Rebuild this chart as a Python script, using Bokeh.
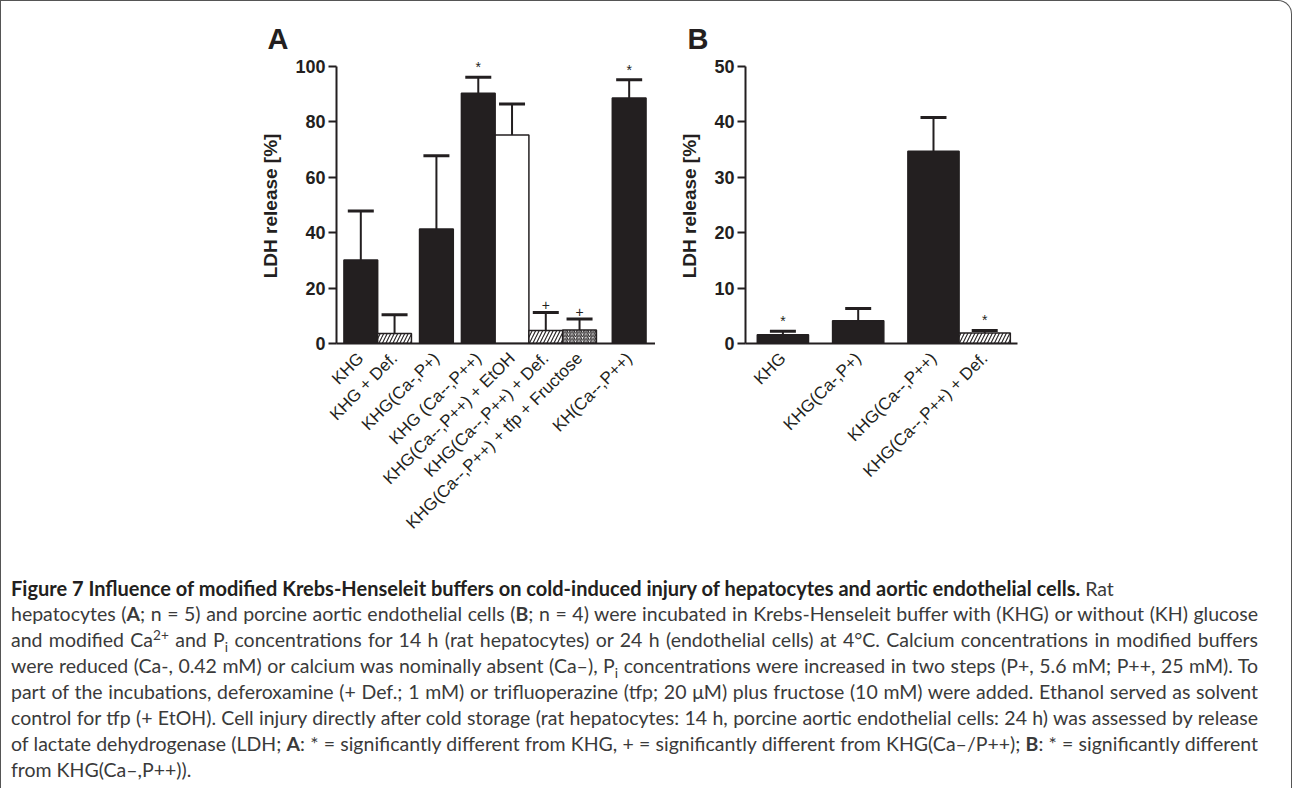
import numpy as np
from bokeh.plotting import figure
from bokeh.models import ColumnDataSource, Range1d, FixedTicker, Div
from bokeh.layouts import column, row
from bokeh.embed import file_html
from bokeh.resources import INLINE
from bokeh.core.properties import value

# ---------------- data ----------------
labels_A = ["KHG", "KHG + Def.", "KHG(Ca-,P+)", "KHG (Ca--,P++)",
            "KHG(Ca--,P++) + EtOH", "KHG(Ca--,P++) + Def.",
            "KHG(Ca--,P++) + tfp + Fructose", "KH(Ca--,P++)"]
mean_A = [30.1, 3.6, 41.3, 90.3, 75.3, 4.7, 4.9, 88.6]
upper_A = [47.8, 10.4, 67.8, 96.1, 86.5, 11.2, 8.8, 95.2]
sig_A = ["", "", "", "*", "", "+", "+", "*"]
yticks_A = [0, 20, 40, 60, 80, 100]

labels_B = ["KHG", "KHG(Ca-,P+)", "KHG(Ca--,P++)", "KHG(Ca--,P++) + Def."]
mean_B = [1.6, 4.1, 34.7, 1.9]
upper_B = [2.2, 6.3, 40.8, 2.35]
sig_B = ["*", "", "", "*"]
yticks_B = [0, 10, 20, 30, 40, 50]

y_title = "LDH release [%]"

# ---------------- styles / layout ----------------
kind_A = ["solid", "hatch", "solid", "solid", "open", "hatch", "dense", "solid"]
kind_B = ["solid", "solid", "solid", "hatch"]
gap_A = [0.22, 0, 0.24, 0.24, 0, 0, 0, 0.47]
tail_A = 0.28
gap_B = [0.23, 0.47, 0.47, 0]
tail_B = 0.14

INK = "#231f20"
FONT = "Liberation Sans"
STYLE = {"solid": (INK, " ", 12.0), "open": ("white", " ", 12.0),
         "hatch": ("white", "/", 7.0), "dense": ("white", "/", 3.5)}

FRAME_H = 291
AXIS_PX = 277  # pixels from 0 to top tick


def centers(gaps):
    g = np.cumsum(gaps)
    return [round(float(v), 3) for v in g + np.arange(len(gaps)) + 0.5]


def panel(letter, labels, mean, upper, sig, kinds, gaps, tail, yticks,
          frame_w, mb_left, mb_right, title_off):
    xs = centers(gaps)
    x_end = xs[-1] + 0.5 + tail
    y_end = yticks[-1] * FRAME_H / AXIS_PX
    p = figure(frame_width=frame_w, frame_height=FRAME_H,
               x_range=Range1d(0, x_end), y_range=Range1d(0, y_end),
               output_backend="svg", toolbar_location=None,
               min_border_left=mb_left, min_border_right=mb_right,
               min_border_top=51, min_border_bottom=218,
               title=letter)
    p.outline_line_color = None
    p.xgrid.visible = False
    p.ygrid.visible = False
    p.background_fill_color = "white"
    p.border_fill_color = "white"

    p.title.text_font = FONT
    p.title.text_font_size = "29px"
    p.title.text_font_style = "bold"
    p.title.text_color = INK
    p.title.align = "left"
    p.title.offset = title_off
    p.title.standoff = -5

    src = ColumnDataSource(dict(
        x=xs, top=mean, up=upper, sig=sig,
        fill=[STYLE[k][0] for k in kinds],
        hatch=[STYLE[k][1] for k in kinds],
        hs=[STYLE[k][2] for k in kinds],
    ))
    p.vbar(x="x", top="top", bottom=0, width=1, source=src,
           fill_color="fill", line_color=INK, line_width=1.5,
           hatch_pattern="hatch", hatch_scale="hs", hatch_color=INK,
           hatch_weight=1.1)
    p.segment(x0="x", y0="top", x1="x", y1="up", source=src,
              line_color=INK, line_width=2)
    p.scatter(x="x", y="up", marker="dash", size=26, source=src,
              line_color=INK, line_width=3)
    p.text(x="x", y="up", text="sig", source=src, text_align="center",
           text_baseline="bottom", y_offset=-2, text_font_size="14px",
           text_font=value(FONT), text_color=INK)

    xa = p.xaxis[0]
    xa.ticker = FixedTicker(ticks=xs)
    xa.major_label_overrides = {x: l for x, l in zip(xs, labels)}
    xa.major_label_orientation = np.pi / 4
    xa.major_tick_line_color = None
    xa.minor_tick_line_color = None
    xa.axis_line_width = 2
    xa.axis_line_color = INK
    xa.major_label_text_font = FONT
    xa.major_label_text_font_size = "17px"
    xa.major_label_text_color = INK
    xa.major_label_standoff = 6

    ya = p.yaxis[0]
    ya.ticker = FixedTicker(ticks=yticks)
    ya.bounds = (0, yticks[-1])
    ya.major_tick_out = 8
    ya.major_tick_in = 0
    ya.major_tick_line_width = 2
    ya.major_tick_line_color = INK
    ya.minor_tick_line_color = None
    ya.axis_line_width = 2
    ya.axis_line_color = INK
    ya.major_label_text_font = FONT
    ya.major_label_text_font_size = "18px"
    ya.major_label_text_font_style = "bold"
    ya.major_label_text_color = INK
    ya.major_label_standoff = 3
    # trailing no-break spaces centre the title on the axis span (0..max)
    ya.axis_label = y_title + "\u00a0\u00a0\u00a0"
    ya.axis_label_text_font = FONT
    ya.axis_label_text_font_size = "19px"
    ya.axis_label_text_font_style = "bold"
    ya.axis_label_text_color = INK
    ya.axis_label_standoff = 11
    return p


pA = panel("A", labels_A, mean_A, upper_A, sig_A, kind_A, gap_A, tail_A,
           yticks_A, 319, 335, 0, -69)
pB = panel("B", labels_B, mean_B, upper_B, sig_B, kind_B, gap_B, tail_B,
           yticks_B, 272, 90, 264, -58)

# ---------------- caption ----------------
caption_lines = [
    "<b style='color:#231f20;font-size:20px'>Figure 7 Influence of modified Krebs-Henseleit buffers on cold-induced injury of hepatocytes and aortic endothelial cells.</b> Rat",
    "hepatocytes (<b>A</b>; n = 5) and porcine aortic endothelial cells (<b>B</b>; n = 4) were incubated in Krebs-Henseleit buffer with (KHG) or without (KH) glucose",
    "and modified Ca<sup>2+</sup> and P<sub>i</sub> concentrations for 14 h (rat hepatocytes) or 24 h (endothelial cells) at 4°C. Calcium concentrations in modified buffers",
    "were reduced (Ca-, 0.42 mM) or calcium was nominally absent (Ca–), P<sub>i</sub> concentrations were increased in two steps (P+, 5.6 mM; P++, 25 mM). To",
    "part of the incubations, deferoxamine (+ Def.; 1 mM) or trifluoperazine (tfp; 20 μM) plus fructose (10 mM) were added. Ethanol served as solvent",
    "control for tfp (+ EtOH). Cell injury directly after cold storage (rat hepatocytes: 14 h, porcine aortic endothelial cells: 24 h) was assessed by release",
    "of lactate dehydrogenase (LDH; <b>A</b>: * = significantly different from KHG, + = significantly different from KHG(Ca–/P++); <b>B</b>: * = significantly different",
    "from KHG(Ca–,P++)).",
]
parts = []
for i, ln in enumerate(caption_lines):
    last = "justify" if 0 < i < len(caption_lines) - 1 else "left"
    parts.append(f"<div style='text-align:justify;text-align-last:{last};height:26px;overflow:visible'>{ln}</div>")
html = ("<style>sup,sub{font-size:70%;line-height:0}</style>"
        "<div style=\"font-family:Lato;font-size:19.5px;line-height:26px;"
        "color:#3a3a3a;padding:9px 0 0 5px;width:1252px\">" + "".join(parts) + "</div>")
cap = Div(text=html, width=1280, height=217)

lay = column(row(pA, pB), cap,
             styles={"border-left": "1.5px solid #555",
                     "border-top": "1.5px solid #555",
                     "border-right": "1.5px solid #555",
                     "border-top-right-radius": "14px"})

open("out.html", "w").write(file_html(lay, INLINE))
